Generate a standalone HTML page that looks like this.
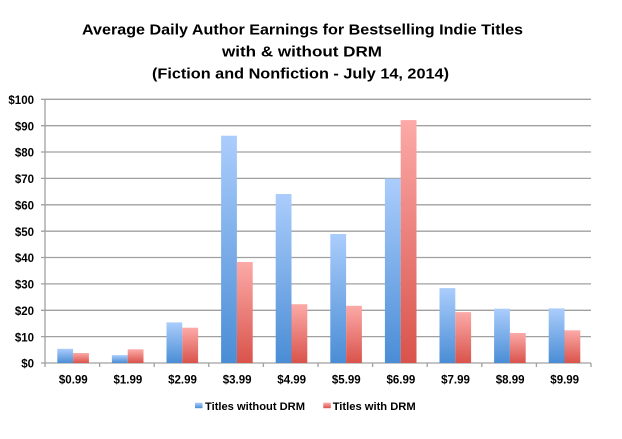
<!DOCTYPE html>
<html>
<head>
<meta charset="utf-8">
<style>
html,body{margin:0;padding:0;background:#fff;}
svg{display:block;}
text{font-family:"Liberation Sans",Arial,sans-serif;font-weight:bold;fill:#000;}
</style>
</head>
<body>
<svg width="622" height="439" viewBox="0 0 622 439" xmlns="http://www.w3.org/2000/svg">
<defs>
<linearGradient id="gb" x1="0" y1="0" x2="0" y2="1">
<stop offset="0" stop-color="#abcdfc"/>
<stop offset="1" stop-color="#4a8dd5"/>
</linearGradient>
<linearGradient id="gr" x1="0" y1="0" x2="0" y2="1">
<stop offset="0" stop-color="#fcaaa8"/>
<stop offset="1" stop-color="#d9534b"/>
</linearGradient>
</defs>
<rect width="622" height="439" fill="#fff"/>
<!-- Title -->
<text x="302.5" y="34.5" font-size="14.5" text-anchor="middle" textLength="441" lengthAdjust="spacingAndGlyphs">Average Daily Author Earnings for Bestselling Indie Titles</text>
<text x="302" y="56.5" font-size="14.5" text-anchor="middle" textLength="160" lengthAdjust="spacingAndGlyphs">with &amp; without DRM</text>
<text x="300.5" y="78.5" font-size="14.5" text-anchor="middle" textLength="297" lengthAdjust="spacingAndGlyphs">(Fiction and Nonfiction - July 14, 2014)</text>
<!-- gridlines -->
<g stroke="#a0a0a0" stroke-width="1.3">
<line x1="41" y1="99.3" x2="591" y2="99.3"/>
<line x1="41" y1="125.7" x2="591" y2="125.7"/>
<line x1="41" y1="152.0" x2="591" y2="152.0"/>
<line x1="41" y1="178.4" x2="591" y2="178.4"/>
<line x1="41" y1="204.8" x2="591" y2="204.8"/>
<line x1="41" y1="231.2" x2="591" y2="231.2"/>
<line x1="41" y1="257.5" x2="591" y2="257.5"/>
<line x1="41" y1="283.9" x2="591" y2="283.9"/>
<line x1="41" y1="310.3" x2="591" y2="310.3"/>
<line x1="41" y1="336.6" x2="591" y2="336.6"/>
<line x1="41" y1="363" x2="591" y2="363"/>
<line x1="45" y1="99.3" x2="45" y2="367"/>
<line x1="99.6" y1="363" x2="99.6" y2="367"/>
<line x1="154.2" y1="363" x2="154.2" y2="367"/>
<line x1="208.8" y1="363" x2="208.8" y2="367"/>
<line x1="263.4" y1="363" x2="263.4" y2="367"/>
<line x1="318" y1="363" x2="318" y2="367"/>
<line x1="372.6" y1="363" x2="372.6" y2="367"/>
<line x1="427.2" y1="363" x2="427.2" y2="367"/>
<line x1="481.8" y1="363" x2="481.8" y2="367"/>
<line x1="536.4" y1="363" x2="536.4" y2="367"/>
<line x1="591" y1="363" x2="591" y2="367"/>
</g>
<!-- y labels -->
<g font-size="11.5" text-anchor="end">
<text x="34" y="104">$100</text>
<text x="34" y="130.4">$90</text>
<text x="34" y="156.7">$80</text>
<text x="34" y="183.1">$70</text>
<text x="34" y="209.5">$60</text>
<text x="34" y="235.9">$50</text>
<text x="34" y="262.2">$40</text>
<text x="34" y="288.6">$30</text>
<text x="34" y="315">$20</text>
<text x="34" y="341.3">$10</text>
<text x="34" y="367.7">$0</text>
</g>
<!-- bars: y(v)=363-2.637v -->
<g>
<rect x="57.3" y="348.8" width="15.8" height="14.2" fill="url(#gb)"/>
<rect x="73.1" y="353.0" width="15.8" height="10.0" fill="url(#gr)"/>
<rect x="111.9" y="355.1" width="15.8" height="7.9" fill="url(#gb)"/>
<rect x="127.7" y="349.3" width="15.8" height="13.7" fill="url(#gr)"/>
<rect x="166.5" y="322.4" width="15.8" height="40.6" fill="url(#gb)"/>
<rect x="182.3" y="327.7" width="15.8" height="35.3" fill="url(#gr)"/>
<rect x="221.1" y="135.7" width="15.8" height="227.3" fill="url(#gb)"/>
<rect x="236.9" y="262.0" width="15.8" height="101.0" fill="url(#gr)"/>
<rect x="275.7" y="194.0" width="15.8" height="169.0" fill="url(#gb)"/>
<rect x="291.5" y="304.2" width="15.8" height="58.8" fill="url(#gr)"/>
<rect x="330.3" y="234.0" width="15.8" height="129.0" fill="url(#gb)"/>
<rect x="346.1" y="305.8" width="15.8" height="57.2" fill="url(#gr)"/>
<rect x="384.9" y="178.7" width="15.8" height="184.3" fill="url(#gb)"/>
<rect x="400.7" y="120.1" width="15.8" height="242.9" fill="url(#gr)"/>
<rect x="439.5" y="288.1" width="15.8" height="74.9" fill="url(#gb)"/>
<rect x="455.3" y="312.1" width="15.8" height="50.9" fill="url(#gr)"/>
<rect x="494.1" y="308.7" width="15.8" height="54.3" fill="url(#gb)"/>
<rect x="509.9" y="333.0" width="15.8" height="30.0" fill="url(#gr)"/>
<rect x="548.7" y="308.4" width="15.8" height="54.6" fill="url(#gb)"/>
<rect x="564.5" y="330.3" width="15.8" height="32.7" fill="url(#gr)"/>
</g>
<!-- x labels -->
<g font-size="11.5" text-anchor="middle">
<text x="73.3" y="383.5">$0.99</text>
<text x="127.9" y="383.5">$1.99</text>
<text x="182.5" y="383.5">$2.99</text>
<text x="237.1" y="383.5">$3.99</text>
<text x="291.7" y="383.5">$4.99</text>
<text x="346.3" y="383.5">$5.99</text>
<text x="400.9" y="383.5">$6.99</text>
<text x="455.5" y="383.5">$7.99</text>
<text x="510.1" y="383.5">$8.99</text>
<text x="564.7" y="383.5">$9.99</text>
</g>
<!-- legend -->
<rect x="195" y="402.7" width="7.5" height="5.5" fill="url(#gb)"/>
<text x="205" y="410" font-size="11.2" textLength="100" lengthAdjust="spacingAndGlyphs">Titles without DRM</text>
<rect x="323.3" y="402.7" width="7.5" height="5.5" fill="url(#gr)"/>
<text x="332.7" y="410" font-size="11.2" textLength="83" lengthAdjust="spacingAndGlyphs">Titles with DRM</text>
</svg>
</body>
</html>
